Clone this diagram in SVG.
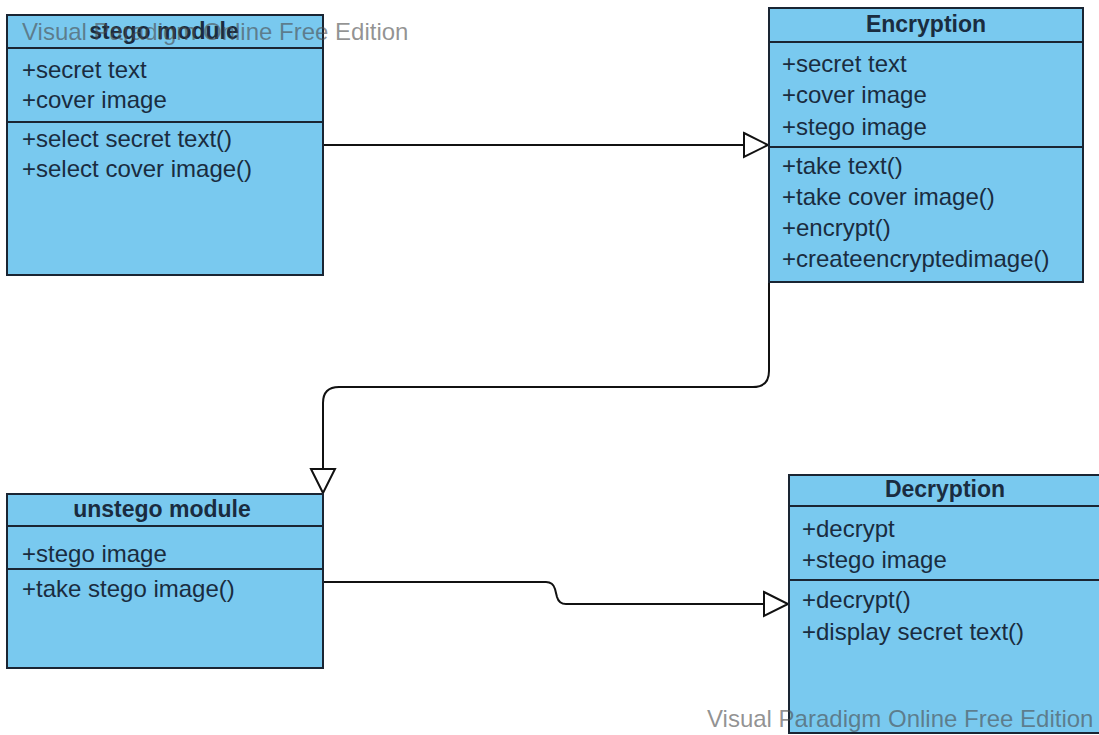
<svg xmlns="http://www.w3.org/2000/svg" width="1099" height="735" viewBox="0 0 1099 735">
  <style>
    .box { fill: #79c9ef; stroke: #1a2533; stroke-width: 2; }
    .sep { stroke: #1a2533; stroke-width: 2; }
    .title { font-family: "Liberation Sans", Arial, sans-serif; font-size: 23px; font-weight: bold; fill: #1a2c40; text-anchor: middle; }
    .member { font-family: "Liberation Sans", Arial, sans-serif; font-size: 24px; fill: #1a2c40; }
    .edge { fill: none; stroke: #111; stroke-width: 2; }
    .head { fill: #fff; stroke: #111; stroke-width: 2; stroke-linejoin: miter; }
    .mark { font-family: "Liberation Sans", Arial, sans-serif; font-size: 24px; fill: #4a4a4a; fill-opacity: 0.6; }
  </style>
  <rect width="1099" height="735" fill="#fff"/>

  <g id="connectors">
    <!-- stego module -> Encryption -->
    <path class="edge" d="M323,145 H744"/>
    <polygon class="head" points="744,133 768,145 744,157"/>
    <!-- Encryption -> unstego module -->
    <path class="edge" d="M769,282 V371 Q769,387 753,387 H339 Q323,387 323,403 V469"/>
    <polygon class="head" points="311,469 323,493 335,469"/>
    <!-- unstego module -> Decryption -->
    <path class="edge" d="M323,582 H546 Q553,582 555,589 L557,597 Q559,604 566,604 H764"/>
    <polygon class="head" points="764,592 788,604 764,616"/>
  </g>

  <g id="stego-module">
    <rect class="box" x="7" y="15" width="316" height="260"/>
    <line class="sep" x1="7" y1="48" x2="323" y2="48"/>
    <line class="sep" x1="7" y1="122" x2="323" y2="122"/>
    <text class="title" x="164" y="39">stego module</text>
    <text class="member" x="22" y="78">+secret text</text>
    <text class="member" x="22" y="108">+cover image</text>
    <text class="member" x="22" y="147">+select secret text()</text>
    <text class="member" x="22" y="177">+select cover image()</text>
  </g>

  <g id="encryption">
    <rect class="box" x="769" y="8" width="314" height="274"/>
    <line class="sep" x1="769" y1="42" x2="1083" y2="42"/>
    <line class="sep" x1="769" y1="147" x2="1083" y2="147"/>
    <text class="title" x="926" y="32">Encryption</text>
    <text class="member" x="782" y="72">+secret text</text>
    <text class="member" x="782" y="103">+cover image</text>
    <text class="member" x="782" y="135">+stego image</text>
    <text class="member" x="782" y="174">+take text()</text>
    <text class="member" x="782" y="205">+take cover image()</text>
    <text class="member" x="782" y="236">+encrypt()</text>
    <text class="member" x="782" y="267">+createencryptedimage()</text>
  </g>

  <g id="unstego-module">
    <rect class="box" x="7" y="494" width="316" height="174"/>
    <line class="sep" x1="7" y1="526" x2="323" y2="526"/>
    <line class="sep" x1="7" y1="569" x2="323" y2="569"/>
    <text class="title" x="162" y="517">unstego module</text>
    <text class="member" x="22" y="562">+stego image</text>
    <text class="member" x="22" y="597">+take stego image()</text>
  </g>

  <g id="decryption">
    <rect class="box" x="789" y="475" width="316" height="258"/>
    <line class="sep" x1="789" y1="506" x2="1105" y2="506"/>
    <line class="sep" x1="789" y1="580" x2="1105" y2="580"/>
    <text class="title" x="945" y="497">Decryption</text>
    <text class="member" x="802" y="537">+decrypt</text>
    <text class="member" x="802" y="568">+stego image</text>
    <text class="member" x="802" y="608">+decrypt()</text>
    <text class="member" x="802" y="640">+display secret text()</text>
  </g>

  <!-- edition watermarks -->
  <text class="mark" x="22" y="40">Visual Paradigm Online Free Edition</text>
  <text class="mark" x="707" y="727">Visual Paradigm Online Free Edition</text>
</svg>
